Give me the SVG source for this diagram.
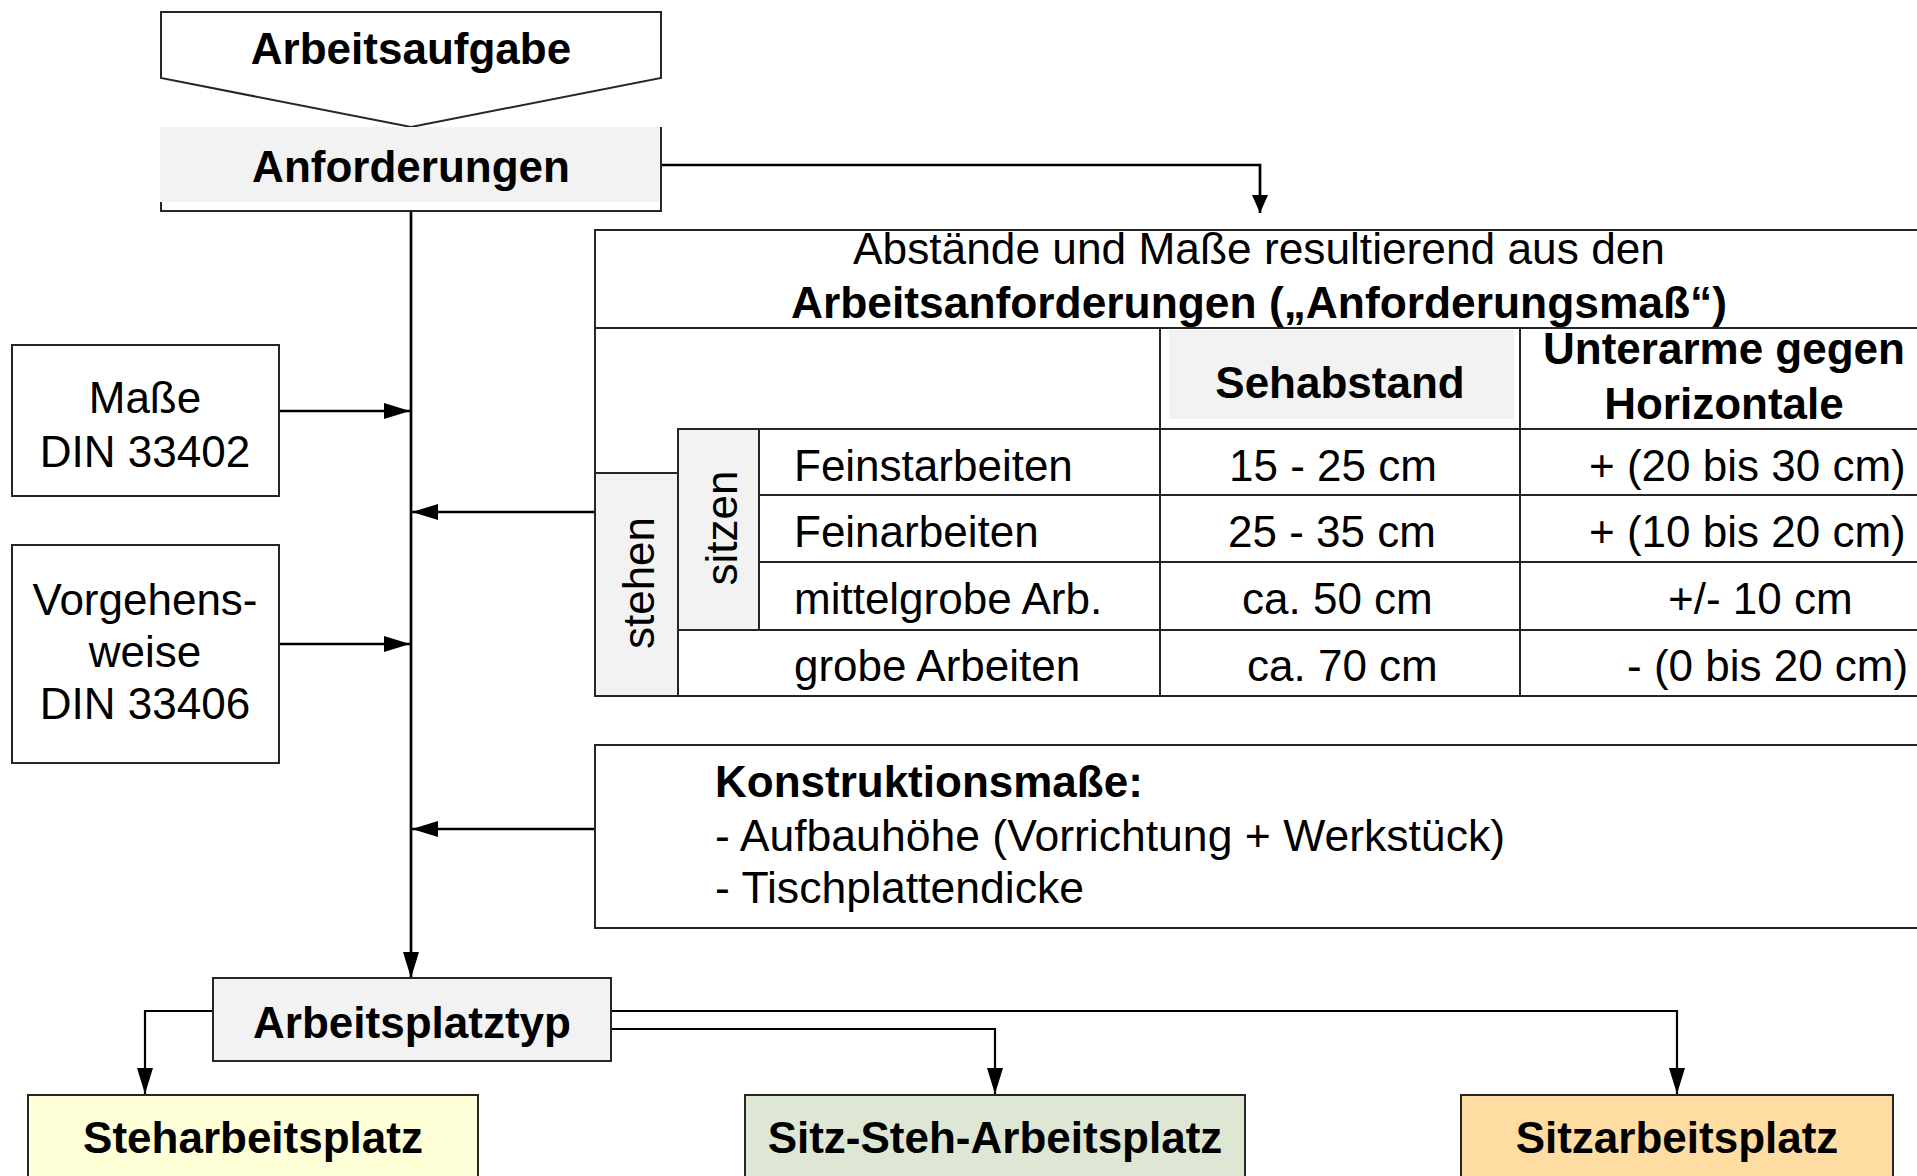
<svg xmlns="http://www.w3.org/2000/svg" width="1917" height="1176" viewBox="0 0 1917 1176">
<style>
  text { font-family: "Liberation Sans", Arial, sans-serif; font-size: 44px; fill: #000; }
  .b { font-weight: bold; }
  .c { text-anchor: middle; }
  .box { fill: #fff; stroke: #262626; stroke-width: 2; }
  .grey { fill: #f2f2f2; }
  .gbox { fill: #f2f2f2; stroke: #262626; stroke-width: 2; }
  .tl { stroke: #262626; stroke-width: 2; fill: none; }
  .con { stroke: #000; stroke-width: 2.7; fill: none; }
  .con2 { stroke: #000; stroke-width: 2.2; fill: none; }
</style>
<defs>
  <marker id="ah" markerUnits="userSpaceOnUse" markerWidth="26" markerHeight="16" refX="26" refY="8" orient="auto">
    <path d="M0,0 L26,8 L0,16 z" fill="#000"/>
  </marker>
  <marker id="ahs" markerUnits="userSpaceOnUse" markerWidth="18" markerHeight="16" refX="18" refY="8" orient="auto">
    <path d="M0,0 L18,8 L0,16 z" fill="#000"/>
  </marker>
</defs>
<rect width="1917" height="1176" fill="#fff"/>

<g id="connectors">
  <path class="con" d="M661,165 H1260 V213" marker-end="url(#ahs)"/>
  <path class="con" d="M411,211 V978" marker-end="url(#ah)"/>
  <path class="con" d="M279,411 H410" marker-end="url(#ah)"/>
  <path class="con" d="M279,644 H410" marker-end="url(#ah)"/>
  <path class="con" d="M595,512 H412" marker-end="url(#ah)"/>
  <path class="con" d="M595,829 H412" marker-end="url(#ah)"/>
  <path class="con2" d="M213,1011 H145 V1094" marker-end="url(#ah)"/>
  <path class="con2" d="M611,1011 H1677 V1094" marker-end="url(#ah)"/>
  <path class="con2" d="M611,1029 H995 V1094" marker-end="url(#ah)"/>
</g>

<g id="arbeitsaufgabe">
  <polygon class="box" points="161,12 661,12 661,78 411,127 161,78"/>
  <text class="b c" x="411" y="64">Arbeitsaufgabe</text>
</g>

<g id="anforderungen">
  <rect class="box" x="161" y="128" width="500" height="83"/>
  <rect class="grey" x="160" y="127" width="500" height="75"/>
  <text class="b c" x="411" y="182">Anforderungen</text>
</g>

<g id="masse">
  <rect class="box" x="12" y="345" width="267" height="151"/>
  <text class="c" x="145" y="413" font-size="43">Maße</text>
  <text class="c" x="145" y="467" font-size="43">DIN 33402</text>
</g>

<g id="vorgehensweise">
  <rect class="box" x="12" y="545" width="267" height="218"/>
  <text class="c" x="145" y="615" font-size="43">Vorgehens-</text>
  <text class="c" x="145" y="667" font-size="43">weise</text>
  <text class="c" x="145" y="719" font-size="43">DIN 33406</text>
</g>

<g id="tabelle">
  <rect class="box" x="595" y="230" width="1340" height="466"/>
  <line class="tl" x1="595" y1="328" x2="1935" y2="328"/>
  <rect class="grey" x="1169" y="330" width="345" height="89"/>
  <line class="tl" x1="1160" y1="328" x2="1160" y2="696"/>
  <line class="tl" x1="1520" y1="328" x2="1520" y2="696"/>
  <line class="tl" x1="678" y1="429" x2="1935" y2="429"/>
  <line class="tl" x1="759" y1="495" x2="1935" y2="495"/>
  <line class="tl" x1="759" y1="562" x2="1935" y2="562"/>
  <line class="tl" x1="678" y1="630" x2="1935" y2="630"/>
  <rect class="gbox" x="595" y="473" width="83" height="223"/>
  <rect class="gbox" x="678" y="429" width="81" height="201"/>

  <text x="853" y="264" textLength="812" lengthAdjust="spacingAndGlyphs">Abstände und Maße resultierend aus den</text>
  <text class="b" x="791" y="318" textLength="936" lengthAdjust="spacingAndGlyphs">Arbeitsanforderungen („Anforderungsmaß“)</text>
  <text class="b c" x="1340" y="398">Sehabstand</text>
  <text class="b c" x="1724" y="364">Unterarme gegen</text>
  <text class="b c" x="1724" y="419">Horizontale</text>

  <text class="c" transform="translate(654,583) rotate(-90)">stehen</text>
  <text class="c" transform="translate(737,528) rotate(-90)">sitzen</text>

  <text x="794" y="481">Feinstarbeiten</text>
  <text x="794" y="547">Feinarbeiten</text>
  <text x="794" y="614">mittelgrobe Arb.</text>
  <text x="794" y="681">grobe Arbeiten</text>

  <text x="1229" y="481">15 - 25 cm</text>
  <text x="1228" y="547">25 - 35 cm</text>
  <text x="1242" y="614">ca. 50 cm</text>
  <text x="1247" y="681">ca. 70 cm</text>

  <text x="1589" y="481">+ (20 bis 30 cm)</text>
  <text x="1589" y="547">+ (10 bis 20 cm)</text>
  <text x="1668" y="614">+/- 10 cm</text>
  <text x="1627" y="681">- (0 bis 20 cm)</text>
</g>

<g id="konstruktionsmasse">
  <rect class="box" x="595" y="745" width="1340" height="183"/>
  <text class="b" x="715" y="797">Konstruktionsmaße:</text>
  <text x="715" y="851" textLength="790" lengthAdjust="spacingAndGlyphs">- Aufbauhöhe (Vorrichtung + Werkstück)</text>
  <text x="715" y="903" textLength="369" lengthAdjust="spacingAndGlyphs">- Tischplattendicke</text>
</g>

<g id="arbeitsplatztyp">
  <rect class="gbox" x="213" y="978" width="398" height="83"/>
  <text class="b c" x="412" y="1038">Arbeitsplatztyp</text>
</g>

<g id="steharbeitsplatz">
  <rect class="box" x="28" y="1095" width="450" height="100" style="fill:#ffffd7"/>
  <text class="b c" x="253" y="1153">Steharbeitsplatz</text>
</g>

<g id="sitz-steh-arbeitsplatz">
  <rect class="box" x="745" y="1095" width="500" height="100" style="fill:#dde7d3"/>
  <text class="b c" x="995" y="1153">Sitz-Steh-Arbeitsplatz</text>
</g>

<g id="sitzarbeitsplatz">
  <rect class="box" x="1461" y="1095" width="432" height="100" style="fill:#fedca2"/>
  <text class="b c" x="1677" y="1153">Sitzarbeitsplatz</text>
</g>
</svg>
